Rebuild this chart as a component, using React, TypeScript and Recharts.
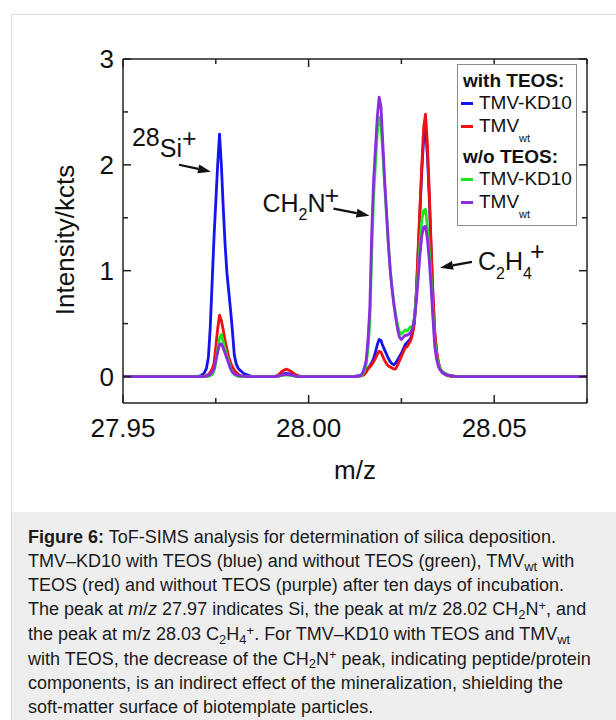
import React from 'react'
import { LineChart, Line, XAxis, YAxis, ReferenceDot } from 'recharts'

const FONT = '"Liberation Sans", Arial, Helvetica, sans-serif'

// m/z grid (denser around the peaks)
const mz = [
  27.950, 27.960, 27.968, 27.970, 27.971, 27.9715, 27.972, 27.9725, 27.973, 27.9735,
  27.974, 27.9745, 27.975, 27.9755, 27.976, 27.9765, 27.977, 27.9775, 27.978, 27.9785,
  27.979, 27.9795, 27.980, 27.9805, 27.981, 27.9815, 27.982, 27.9825, 27.983, 27.984,
  27.985, 27.987, 27.990,
  27.991, 27.992, 27.993, 27.994, 27.995, 27.996, 27.997, 27.998,
  28.003, 28.008, 28.012, 28.013,
  28.014, 28.0145, 28.015, 28.0155, 28.016, 28.0165, 28.017, 28.0175, 28.018, 28.0185,
  28.019, 28.0195, 28.020, 28.0205, 28.021, 28.0215, 28.022, 28.0225, 28.023, 28.0235,
  28.024, 28.0245, 28.025, 28.0255, 28.026, 28.0265, 28.027, 28.0275, 28.028, 28.0285,
  28.029, 28.0295, 28.030, 28.0305, 28.031, 28.0315, 28.032, 28.0325, 28.033, 28.0335,
  28.034, 28.0345, 28.035, 28.0355, 28.036,
  28.037, 28.038, 28.040, 28.045, 28.055, 28.065, 28.075,
]

// with TEOS, TMV-KD10 (blue)
const kd10Teos = [
  0, 0, 0, 0, 0.01, 0.02, 0.04, 0.08, 0.18, 0.46,
  0.88, 1.3, 1.65, 2.0, 2.29, 2.0, 1.6, 1.25, 0.98, 0.8,
  0.62, 0.42, 0.2, 0.12, 0.08, 0.06, 0.045, 0.03, 0.02, 0.01,
  0, 0, 0,
  0, 0.01, 0.025, 0.03, 0.025, 0.015, 0.005, 0,
  0, 0, 0, 0.005,
  0.01, 0.02, 0.04, 0.06, 0.08, 0.10, 0.13, 0.17, 0.23, 0.30,
  0.35, 0.34, 0.29, 0.25, 0.21, 0.17, 0.14, 0.12, 0.11, 0.13,
  0.16, 0.19, 0.22, 0.26, 0.30, 0.32, 0.34, 0.36, 0.42, 0.52,
  0.78, 1.15, 1.55, 1.95, 2.25, 2.34, 2.1, 1.7, 1.2, 0.75,
  0.4, 0.22, 0.12, 0.07, 0.04,
  0.015, 0.005, 0, 0, 0, 0, 0,
]

// with TEOS, TMVwt (red)
const wtTeos = [
  0, 0, 0, 0, 0, 0, 0, 0.01, 0.02, 0.04,
  0.07, 0.12, 0.28, 0.45, 0.58, 0.53, 0.44, 0.34, 0.26, 0.18,
  0.13, 0.09, 0.06, 0.04, 0.025, 0.01, 0, 0, 0, 0,
  0, 0, 0,
  0, 0.02, 0.055, 0.07, 0.055, 0.03, 0.01, 0,
  0, 0, 0, 0,
  0.005, 0.01, 0.02, 0.04, 0.07, 0.09, 0.11, 0.14, 0.17, 0.21,
  0.24, 0.23, 0.19, 0.15, 0.12, 0.10, 0.09, 0.08, 0.07, 0.075,
  0.11, 0.15, 0.19, 0.23, 0.27, 0.28, 0.31, 0.34, 0.40, 0.50,
  0.78, 1.2, 1.6, 2.0, 2.35, 2.48, 2.2, 1.75, 1.25, 0.78,
  0.42, 0.24, 0.13, 0.07, 0.04,
  0.015, 0.005, 0, 0, 0, 0, 0,
]

// w/o TEOS, TMV-KD10 (green)
const kd10NoTeos = [
  0, 0, 0, 0, 0, 0, 0, 0, 0, 0.01,
  0.02, 0.05, 0.13, 0.26, 0.36, 0.40, 0.33, 0.26, 0.19, 0.14,
  0.08, 0.04, 0.02, 0.01, 0, 0, 0, 0, 0, 0,
  0, 0, 0,
  0, 0.005, 0.01, 0.015, 0.01, 0.005, 0, 0,
  0, 0, 0, 0,
  0.005, 0.02, 0.05, 0.11, 0.26, 0.52, 1.15, 1.7, 2.0, 2.3,
  2.45, 2.38, 2.1, 1.8, 1.52, 1.24, 1.0, 0.83, 0.69, 0.58,
  0.48, 0.42, 0.40, 0.42, 0.44, 0.43, 0.45, 0.47, 0.46, 0.56,
  0.74, 0.98, 1.25, 1.48, 1.57, 1.58, 1.42, 1.2, 0.92, 0.6,
  0.33, 0.19, 0.11, 0.07, 0.05,
  0.025, 0.01, 0, 0, 0, 0, 0,
]

// w/o TEOS, TMVwt (purple)
const wtNoTeos = [
  0, 0, 0, 0, 0, 0, 0, 0.005, 0.01, 0.02,
  0.04, 0.07, 0.15, 0.23, 0.30, 0.31, 0.27, 0.22, 0.17, 0.12,
  0.07, 0.04, 0.025, 0.015, 0.01, 0.007, 0.005, 0.003, 0, 0,
  0, 0, 0,
  0, 0.005, 0.015, 0.02, 0.015, 0.01, 0, 0,
  0, 0, 0, 0,
  0.01, 0.03, 0.08, 0.15, 0.35, 0.65, 1.35, 1.85, 2.15, 2.45,
  2.64, 2.55, 2.2, 1.85, 1.55, 1.25, 1.0, 0.82, 0.67, 0.55,
  0.44, 0.37, 0.35, 0.37, 0.39, 0.39, 0.40, 0.42, 0.45, 0.55,
  0.70, 0.92, 1.15, 1.33, 1.41, 1.42, 1.3, 1.1, 0.85, 0.55,
  0.28, 0.16, 0.09, 0.06, 0.04,
  0.02, 0.01, 0, 0, 0, 0, 0,
]

const xTicks = [27.95, 27.975, 28.0, 28.025, 28.05, 28.075]
const yTicks = [0, 0.5, 1, 1.5, 2, 2.5, 3]

const series = [
  { key: 'kd10Teos', name: 'TMV-KD10', sub: '', color: '#1414f0' },
  { key: 'wtTeos', name: 'TMV', sub: 'wt', color: '#f01010' },
  { key: 'kd10NoTeos', name: 'TMV-KD10', sub: '', color: '#1ee61e' },
  { key: 'wtNoTeos', name: 'TMV', sub: 'wt', color: '#8a2be2' },
]

const data = mz.map((m, i) => ({
  mz: m,
  kd10Teos: kd10Teos[i],
  wtTeos: wtTeos[i],
  kd10NoTeos: kd10NoTeos[i],
  wtNoTeos: wtNoTeos[i],
}))

const AX = '#222'
const isMajorX = (v: number) => Math.abs(v * 20 - Math.round(v * 20)) < 1e-6
const isMajorY = (v: number) => Math.abs(v - Math.round(v)) < 1e-6

function BottomTick(props: any) {
  const { x, y, payload } = props
  const major = isMajorX(payload.value)
  return (
    <g>
      <line x1={x} x2={x} y1={y} y2={y - (major ? 8 : 5)} stroke={AX} strokeWidth={1.5} />
      {major && (
        <text x={x} y={y + 34} textAnchor="middle" fontSize={26} fontFamily={FONT} fill="#111">
          {payload.value.toFixed(2)}
        </text>
      )}
    </g>
  )
}

function TopTick(props: any) {
  const { x, y, payload } = props
  const major = isMajorX(payload.value)
  return <line x1={x} x2={x} y1={y} y2={y + (major ? 8 : 5)} stroke={AX} strokeWidth={1.5} />
}

function LeftTick(props: any) {
  const { x, y, payload } = props
  const major = isMajorY(payload.value)
  return (
    <g>
      <line x1={x} x2={x + (major ? 8 : 5)} y1={y} y2={y} stroke={AX} strokeWidth={1.5} />
      {major && (
        <text x={x - 9} y={y + 9} textAnchor="end" fontSize={26} fontFamily={FONT} fill="#111">
          {payload.value}
        </text>
      )}
    </g>
  )
}

function RightTick(props: any) {
  const { x, y, payload } = props
  const major = isMajorY(payload.value)
  return <line x1={x} x2={x - (major ? 8 : 5)} y1={y} y2={y} stroke={AX} strokeWidth={1.5} />
}

function Arrow({ x1, y1, x2, y2 }: { x1: number; y1: number; x2: number; y2: number }) {
  const dx = x2 - x1
  const dy = y2 - y1
  const len = Math.hypot(dx, dy)
  const ux = dx / len
  const uy = dy / len
  const hl = 13
  const hw = 4.5
  const bx = x2 - ux * hl
  const by = y2 - uy * hl
  return (
    <g>
      <line x1={x1} y1={y1} x2={bx} y2={by} stroke="#111" strokeWidth={2.2} />
      <polygon
        points={`${x2},${y2} ${bx - uy * hw},${by + ux * hw} ${bx + uy * hw},${by - ux * hw}`}
        fill="#111"
      />
    </g>
  )
}

const noteStyle = { fontSize: 25, fontFamily: FONT, fill: '#111' }

function SiNote(p: any) {
  const { cx, cy } = p
  return (
    <g>
      <Arrow x1={cx - 32} y1={cy - 7} x2={cx} y2={cy} />
      <text x={cx - 79} y={cy - 26} {...noteStyle}>
        <tspan>28</tspan>
        <tspan dy={11}>Si</tspan>
        <tspan dy={-10}>+</tspan>
      </text>
    </g>
  )
}

function CH2NNote(p: any) {
  const { cx, cy } = p
  return (
    <g>
      <Arrow x1={cx - 36} y1={cy - 7} x2={cx} y2={cy} />
      <text x={cx - 107} y={cy - 4} {...noteStyle}>
        <tspan>CH</tspan>
        <tspan dy={8} fontSize={16}>2</tspan>
        <tspan dy={-8}>N</tspan>
        <tspan dy={-8} dx={-1}>+</tspan>
      </text>
    </g>
  )
}

function C2H4Note(p: any) {
  const { cx, cy } = p
  return (
    <g>
      <Arrow x1={cx + 32} y1={cy - 6} x2={cx} y2={cy} />
      <text x={cx + 38} y={cy + 2} {...noteStyle}>
        <tspan>C</tspan>
        <tspan dy={9} fontSize={16}>2</tspan>
        <tspan dy={-9}>H</tspan>
        <tspan dy={9} fontSize={16}>4</tspan>
        <tspan dy={-19} dx={-2}>+</tspan>
      </text>
    </g>
  )
}

function LegendBox() {
  const head = (text: string) => (
    <div style={{ height: 22, lineHeight: '22px', fontWeight: 'bold', fontSize: 19, paddingLeft: 5 }}>{text}</div>
  )
  const item = (s: (typeof series)[number]) => (
    <div key={s.key} style={{ height: s.sub ? 31 : 23, position: 'relative' }}>
      <div style={{ position: 'absolute', left: 3, top: 10, width: 12, height: 2.5, background: s.color }} />
      <div style={{ position: 'absolute', left: 21, top: 0, lineHeight: '22px', fontSize: 19, whiteSpace: 'nowrap' }}>
        {s.name}
        {s.sub && <span style={{ fontSize: 11, position: 'relative', top: 10 }}>{s.sub}</span>}
      </div>
    </div>
  )
  return (
    <div
      style={{
        position: 'absolute', left: 445, top: 49, width: 118, height: 155,
        border: '1px solid #8c8c8c', background: '#fff', paddingTop: 5,
        fontFamily: FONT, color: '#111', boxSizing: 'content-box',
      }}
    >
      {head('with TEOS:')}
      {item(series[0])}
      {item(series[1])}
      {head('w/o TEOS:')}
      {item(series[2])}
      {item(series[3])}
    </div>
  )
}

const Sub = ({ children }: { children: React.ReactNode }) => (
  <span style={{ fontSize: '0.72em', position: 'relative', top: '0.3em' }}>{children}</span>
)
const Sup = ({ children }: { children: React.ReactNode }) => (
  <span style={{ fontSize: '0.72em', position: 'relative', top: '-0.4em' }}>{children}</span>
)

const captionLines: React.ReactNode[] = [
  <><b>Figure 6:</b> ToF-SIMS analysis for determination of silica deposition.</>,
  <>TMV–KD10 with TEOS (blue) and without TEOS (green), TMV<Sub>wt</Sub> with</>,
  <>TEOS (red) and without TEOS (purple) after ten days of incubation.</>,
  <>The peak at <i>m</i>/<i>z</i> 27.97 indicates Si, the peak at m/z 28.02 CH<Sub>2</Sub>N<Sup>+</Sup>, and</>,
  <>the peak at m/z 28.03 C<Sub>2</Sub>H<Sub>4</Sub><Sup>+</Sup>. For TMV–KD10 with TEOS and TMV<Sub>wt</Sub></>,
  <>with TEOS, the decrease of the CH<Sub>2</Sub>N<Sup>+</Sup> peak, indicating peptide/protein</>,
  <>components, is an indirect effect of the mineralization, shielding the</>,
  <>soft-matter surface of biotemplate particles.</>,
]

export default function App() {
  return (
    <div style={{ position: 'fixed', left: 0, top: 0, width: 616, height: 720, background: '#fff', overflow: 'hidden', fontFamily: FONT }}>
      <div style={{ position: 'absolute', left: 11, top: 14, right: 0, bottom: 0, borderLeft: '1px solid #dcdcdc', borderTop: '1px solid #dcdcdc' }}>
        <div style={{ position: 'absolute', left: 0, top: 0, width: 604, height: 497 }}>
          <LineChart width={604} height={497} data={data} margin={{ top: 43, right: 28, bottom: 0, left: 0 }}>
            <XAxis
              dataKey="mz" type="number" domain={[27.95, 28.075]} ticks={xTicks} interval={0}
              height={109} tickSize={0} tickMargin={0} tickLine={false} tick={<BottomTick />}
              axisLine={{ stroke: AX, strokeWidth: 1.5 }} allowDataOverflow
              label={{
                content: (p: any) => {
                  const vb = p.viewBox
                  return (
                    <text x={vb.x + vb.width / 2} y={vb.y + 76} textAnchor="middle" fontSize={26} fontFamily={FONT} fill="#111">
                      m/z
                    </text>
                  )
                },
              }}
            />
            <XAxis
              xAxisId="top" orientation="top" dataKey="mz" type="number" domain={[27.95, 28.075]}
              ticks={xTicks} interval={0} height={1} tickSize={0} tickMargin={0} tickLine={false}
              tick={<TopTick />} axisLine={{ stroke: AX, strokeWidth: 1.5 }} allowDataOverflow
            />
            <YAxis
              type="number" domain={[-0.25, 3]} ticks={yTicks} interval={0} width={111}
              tickSize={0} tickMargin={0} tickLine={false} tick={<LeftTick />}
              axisLine={{ stroke: AX, strokeWidth: 1.5 }} allowDataOverflow
              label={{
                content: (p: any) => {
                  const vb = p.viewBox
                  const cx = vb.x + vb.width - 58
                  const cy = vb.y + vb.height / 2 + 9
                  return (
                    <text x={cx} y={cy} transform={`rotate(-90 ${cx} ${cy})`} textAnchor="middle"
                      dominantBaseline="central" fontSize={26} fontFamily={FONT} fill="#111">
                      Intensity/kcts
                    </text>
                  )
                },
              }}
            />
            <YAxis
              yAxisId="right" orientation="right" type="number" domain={[-0.25, 3]} ticks={yTicks}
              interval={0} width={1} tickSize={0} tickMargin={0} tickLine={false} tick={<RightTick />}
              axisLine={{ stroke: AX, strokeWidth: 1.5 }} allowDataOverflow
            />
            {series.map(s => (
              <Line
                key={s.key} dataKey={s.key} type="linear" stroke={s.color} strokeWidth={2.8}
                dot={false} activeDot={false} isAnimationActive={false} strokeLinejoin="round"
              />
            ))}
            <ReferenceDot x={27.9737} y={1.935} r={0} shape={(p: any) => <SiNote {...p} />} />
            <ReferenceDot x={28.0164} y={1.52} r={0} shape={(p: any) => <CH2NNote {...p} />} />
            <ReferenceDot x={28.0354} y={1.027} r={0} shape={(p: any) => <C2H4Note {...p} />} />
          </LineChart>
          <LegendBox />
        </div>
        <div
          style={{
            position: 'absolute', left: 0, right: 0, top: 497, bottom: 0, background: '#eeeeee',
            paddingTop: 14, paddingLeft: 16, fontSize: 18, lineHeight: '23.7px', color: '#1a1a1a',
          }}
        >
          {captionLines.map((l, i) => (
            <div key={i} style={{ whiteSpace: 'nowrap' }}>{l}</div>
          ))}
        </div>
      </div>
    </div>
  )
}
